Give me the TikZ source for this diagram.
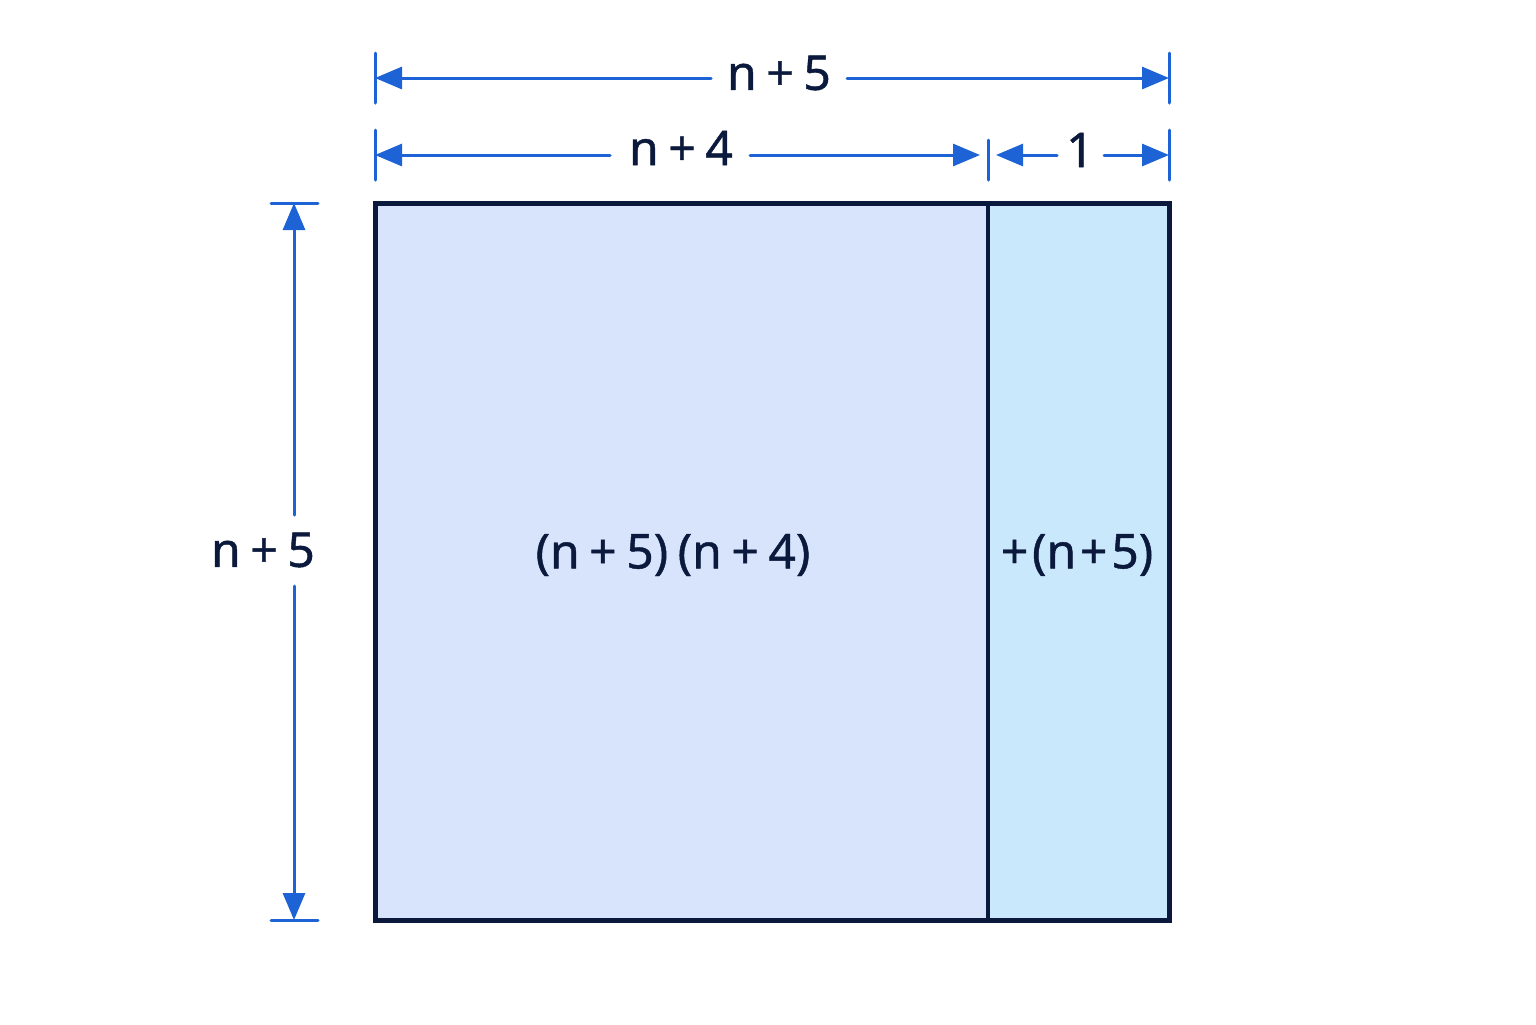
\documentclass[tikz,border=0pt]{standalone}
\usepackage{fontspec}
\setmainfont{Noto Sans}
\newfontface\lblfont[FakeBold=0.9]{Noto Sans}
\usetikzlibrary{arrows.meta}
\definecolor{dimblue}{HTML}{1E63D6}
\definecolor{navy}{HTML}{0B1A3C}
\definecolor{leftfill}{HTML}{D7E4FB}
\definecolor{rightfill}{HTML}{C9E8FC}
\newcommand\gp{\hspace{0.2em}}
\newcommand\sgp{\hspace{0.08em}}
\begin{document}
\begin{tikzpicture}[x=0.5pt,y=-0.5pt,
  dimline/.style={draw=dimblue,line width=1.5pt,line cap=round},
  tipend/.style={-{Triangle[length=13.5pt,width=11pt]}},
  lbl/.style={text=navy,font=\lblfont\fontsize{24}{29}\selectfont,inner sep=0pt}]
\useasboundingbox[fill=white] (0,0) rectangle (1536,1024);
% areas
\fill[leftfill] (375,203) rectangle (988,920);
\fill[rightfill] (988,203) rectangle (1169,920);
\draw[navy,line width=2pt] (988,203) -- (988,920);
\draw[navy,line width=2.5pt] (375,203) rectangle (1169,920);
\node[lbl] (area1) at (673,555) {(n\gp+\gp5)\gp(n\gp+\gp4)};
\node[lbl] (area2) at (1077,555) {+\sgp(n\sgp+\sgp5)};
% top dimension n+5
\coordinate (t5l) at (375,78);
\coordinate (t5r) at (1169,78);
\coordinate (t5a) at (711,78);
\coordinate (t5b) at (847,78);
\draw[dimline] (375,53) -- (375,103);
\draw[dimline] (1169,53) -- (1169,103);
\node[lbl] (top5) at (779,73) {n\gp+\gp5};
\draw[dimline,tipend] (t5a) -- (t5l);
\draw[dimline,tipend] (t5b) -- (t5r);
% second row n+4 and 1
\coordinate (r2l) at (375,155);
\coordinate (r2m) at (988,155);
\coordinate (r2r) at (1169,155);
\coordinate (r4a) at (610,155);
\coordinate (r4b) at (750,155);
\coordinate (r1a) at (1057,155);
\coordinate (r1b) at (1104,155);
\draw[dimline] (375,130) -- (375,180);
\draw[dimline] (988,140) -- (988,180);
\draw[dimline] (1169,130) -- (1169,180);
\node[lbl] (row4) at (681,148) {n\gp+\gp4};
\node[lbl] (row1) at (1080,150) {1};
\draw[dimline,tipend] (r4a) -- (r2l);
\draw[dimline,tipend] (r4b) -- ([xshift=-4pt]r2m);
\draw[dimline,tipend] (r1a) -- ([xshift=4pt]r2m);
\draw[dimline,tipend] (r1b) -- (r2r);
% left vertical n+5
\coordinate (vt) at (294,203);
\coordinate (vb) at (294,920);
\coordinate (va) at (294,515);
\coordinate (vc) at (294,586);
\draw[dimline] (271,203) -- (318,203);
\draw[dimline] (271,920) -- (318,920);
\node[lbl] (left5) at (263,550) {n\gp+\gp5};
\draw[dimline,tipend] (va) -- (vt);
\draw[dimline,tipend] (vc) -- (vb);
\end{tikzpicture}
\end{document}
